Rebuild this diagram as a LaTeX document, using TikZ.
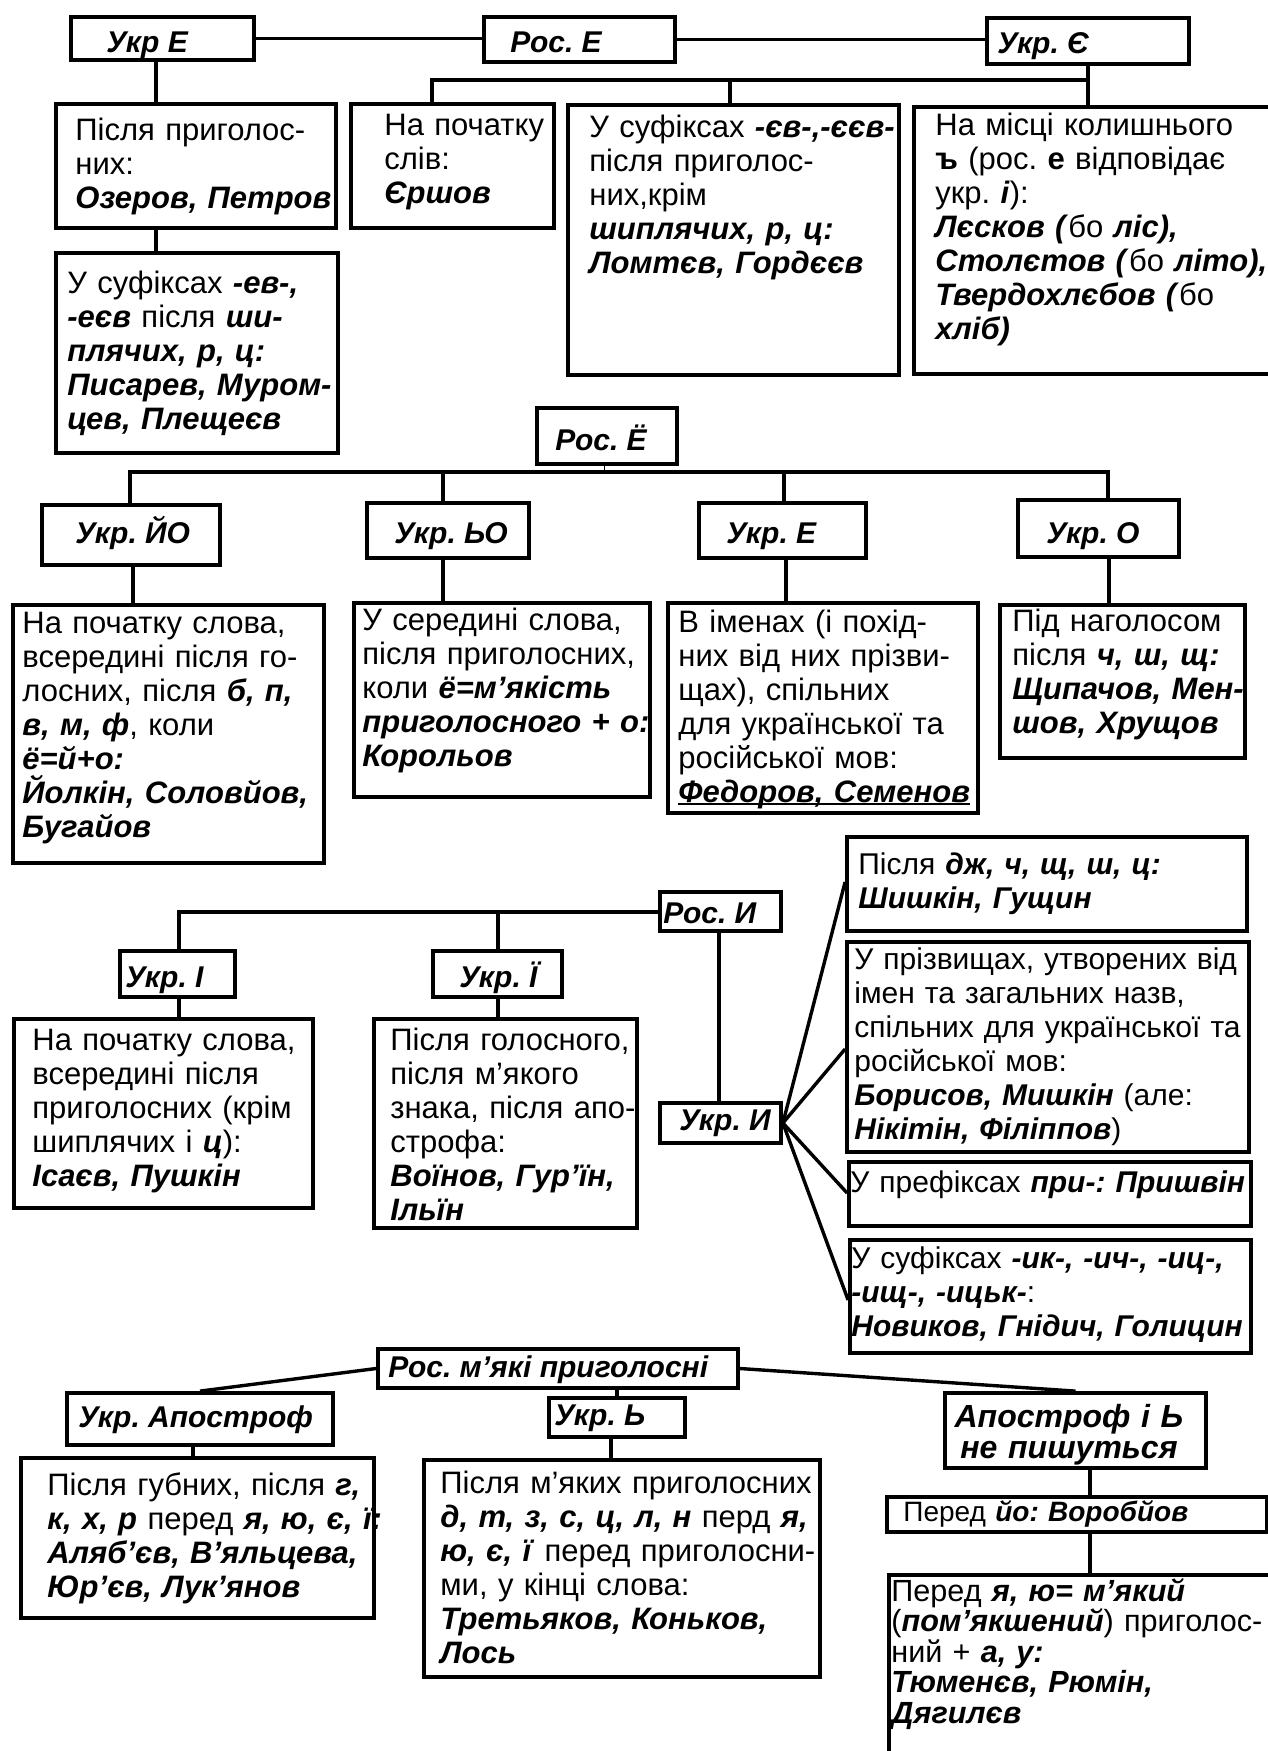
\documentclass[tikz,border=0pt]{standalone}
\usepackage{fontspec}
\setmainfont{Liberation Sans}
\usetikzlibrary{fit}
\frenchspacing
\newcommand\bi[1]{\textbf{\textit{#1}}}
\newsavebox\ulbox
\newcommand\ulthick[1]{\leavevmode\sbox\ulbox{#1}\rlap{\rule[-1.6pt]{\wd\ulbox}{1.1pt}}\usebox\ulbox}
\newcommand\bx[5]{\node[boxs, fit={(#2,#3) (#4,#5)}] (#1) {};}
\begin{document}
\begin{tikzpicture}[x=0.5pt,y=-0.5pt,
  boxs/.style={draw, line width=1.9pt, inner sep=0pt},
  conn/.style={line width=1.7pt, line join=miter},
  thinconn/.style={line width=0.5pt},
  title/.style={anchor=base west, inner sep=0pt, font=\fontsize{15}{18}\selectfont\bfseries\itshape},
  body/.style={anchor=base west, inner sep=0pt, text width=320pt, align=left, font=\fontsize{15.5}{17}\selectfont},
  bodyR/.style={body, font=\fontsize{15}{17}\selectfont}]
\fill[white] (0,0) rectangle (1268,1751);
\useasboundingbox (0,0) rectangle (1268,1751);
% ---------- boxes ----------
\bx{ukrE}{71}{17}{254}{60}
\bx{rosE}{484}{17}{675}{62}
\bx{ukrYe}{987}{18}{1189}{64}
\bx{a1}{56}{104}{336}{228}
\bx{a2}{56}{253}{338}{453}
\bx{b1}{351}{104}{554}{228}
\bx{c1}{568}{105}{899}{375}
\bx{d1}{914}{107}{1290}{374}
\bx{rosYo}{537}{408}{677}{464}
\bx{ukrJo}{42}{505}{220}{565}
\bx{ukrSo}{367}{503}{529}{558}
\bx{ukrE2}{699}{503}{866}{558}
\bx{ukrO}{1018}{500}{1179}{557}
\bx{jo}{13}{605}{324}{863}
\bx{so}{354}{603}{650}{797}
\bx{e2}{668}{603}{978}{813}
\bx{ob}{1000}{605}{1245}{758}
\bx{rosI}{660}{892}{781}{931}
\bx{ukrI}{120}{951}{235}{997}
\bx{ukrYi}{433}{951}{562}{997}
\bx{ib}{14}{1019}{313}{1208}
\bx{yib}{374}{1019}{637}{1228}
\bx{ukrIy}{660}{1103}{781}{1143}
\bx{r1}{847}{837}{1247}{931}
\bx{r2}{847}{942}{1249}{1152}
\bx{r3}{849}{1162}{1251}{1226}
\bx{r4}{850}{1240}{1251}{1353}
\bx{rosM}{378}{1349}{738}{1388}
\bx{ukrAp}{67}{1393}{333}{1445}
\bx{ukrSoft}{549}{1398}{685}{1437}
\bx{apN}{945}{1393}{1206}{1468}
\bx{apb}{21}{1458}{374}{1618}
\bx{softb}{424}{1460}{820}{1677}
\bx{perYo}{887}{1497}{1267}{1532}
\bx{last}{889}{1575}{1290}{1780}
% ---------- titles ----------
\node[title] (tUkrE) at (106,52) {Укр E};
\node[title] (tRosE) at (510,52) {Рос. Е};
\node[title] (tUkrYe) at (997,53) {Укр. Є};
\node[title] (tRosYo) at (555,450) {Рос. Ё};
\node[title] (tUkrJo) at (75,543) {Укр. ЙО};
\node[title] (tUkrSo) at (394,543) {Укр. ЬО};
\node[title] (tUkrE2) at (726,543) {Укр. Е};
\node[title] (tUkrO) at (1046,543) {Укр. О};
\node[title] (tRosI) at (663,923) {Рос. И};
\node[title] (tUkrI) at (125,987) {Укр. І};
\node[title] (tUkrYi) at (459,987) {Укр. Ї};
\node[title] (tUkrIy) at (679,1130) {Укр. И};
\node[title] (tRosM) at (388,1377) {Рос. м’які приголосні};
\node[title] (tUkrAp) at (78,1427) {Укр. Апостроф};
\node[title] (tUkrSoft) at (554,1425) {Укр. Ь};
\node[title, anchor=base, text width=130pt, align=center, font=\fontsize{16}{15.5}\selectfont\bfseries\itshape] (tApN) at (1069,1427) {Апостроф і Ь\\не пишуться};
% ---------- body texts ----------
\node[body] (ta1) at (75,140) {Після приголос-\\них:\\\bi{Озеров, Петров}};
\node[body] (ta2) at (67,293) {У суфіксах \bi{-ев-,}\\\bi{-еєв} після \bi{ши-}\\\bi{плячих, р, ц:}\\\bi{Писарев, Муром-}\\\bi{цев, Плещеєв}};
\node[body] (tb1) at (384,135) {На початку\\слів:\\\bi{Єршов}};
\node[body] (tc1) at (589,137) {У суфіксах \bi{-єв-,-єєв-}\\після приголос-\\них,крім\\\bi{шиплячих, р, ц:}\\\bi{Ломтєв, Гордєєв}};
\node[body] (td1) at (935,135) {На місці колишнього\\\textbf{ъ} (рос. \textbf{е} відповідає\\укр. \bi{і}):\\\bi{Лєсков (}бо \bi{ліс),}\\\bi{Столєтов (}бо \bi{літо),}\\\bi{Твердохлєбов (}бо\\\bi{хліб)}};
\node[body] (tjo) at (22,633) {На початку слова,\\всередині після го-\\лосних, після \bi{б, п,}\\\bi{в, м, ф}, коли\\\bi{ё=й+о:}\\\bi{Йолкін, Соловйов,}\\\bi{Бугайов}};
\node[body] (tso) at (362,630) {У середині слова,\\після приголосних,\\коли \bi{ё=м’якість}\\\bi{приголосного + о:}\\\bi{Корольов}};
\node[body] (te2) at (678,632) {В іменах (і похід-\\них від них прізви-\\щах), спільних\\для української та\\російської мов:\\\ulthick{\bi{Федоров, Семенов}}};
\node[body] (tob) at (1012,631) {Під наголосом\\після \bi{ч, ш, щ:}\\\bi{Щипачов, Мен-}\\\bi{шов, Хрущов}};
\node[body] (tib) at (32,1050) {На початку слова,\\всередині після\\приголосних (крім\\шиплячих і \bi{ц}):\\\bi{Ісаєв, Пушкін}};
\node[body] (tyib) at (390,1050) {Після голосного,\\після м’якого\\знака, після апо-\\строфа:\\\bi{Воїнов, Гур’їн,}\\\bi{Ільїн}};
\node[bodyR] (tr1) at (858,874) {Після \bi{дж, ч, щ, ш, ц:}\\\bi{Шишкін, Гущин}};
\node[bodyR] (tr2) at (854,969) {У прізвищах, утворених від\\імен та загальних назв,\\спільних для української та\\російської мов:\\\bi{Борисов, Мишкін} (але:\\\bi{Нікітін, Філіппов})};
\node[bodyR] (tr3) at (850,1192) {У префіксах \bi{при-: Пришвін}};
\node[bodyR] (tr4) at (851,1268) {У суфіксах \bi{-ик-, -ич-, -иц-,}\\\bi{-ищ-, -ицьк-}:\\\bi{Новиков, Гнідич, Голицин}};
\node[body] (tapb) at (47,1495) {Після губних, після \bi{г,}\\\bi{к, х, р} перед \bi{я, ю, є, ї:}\\\bi{Аляб’єв, В’яльцева,}\\\bi{Юр’єв, Лук’янов}};
\node[body] (tsoftb) at (440,1493) {Після м’яких приголосних\\\bi{д, т, з, с, ц, л, н} перд \bi{я,}\\\bi{ю, є, ї} перед приголосни-\\ми, у кінці слова:\\\bi{Третьяков, Коньков,}\\\bi{Лось}};
\node[body, font=\fontsize{14}{17}\selectfont] (tperYo) at (903,1521) {Перед \bi{йо: Воробйов}};
\node[body, font=\fontsize{15.3}{15.3}\selectfont] (tlast) at (891,1601) {Перед \bi{я, ю= м’який}\\(\bi{пом’якшений}) приголос-\\ний + \bi{а, у:}\\\bi{Тюменєв, Рюмін,}\\\bi{Дягилєв}};
% ---------- connectors ----------
\draw[conn] (ukrE.east) -- (ukrE.east -| rosE.west);
\draw[conn] (rosE.east) -- (rosE.east -| ukrYe.west);
\coordinate (v1) at (156,0);
\draw[conn] (ukrE.south -| v1) -- (a1.north -| v1);
\draw[conn] (a1.south -| v1) -- (a2.north -| v1);
\coordinate (busL) at (432,80);
\coordinate (busM) at (730,80);
\coordinate (busR) at (1088,80);
\draw[conn] (ukrYe.south -| busR) -- (d1.north -| busR);
\draw[conn] (busR) -- (busL) -- (b1.north -| busL);
\draw[conn] (busM) -- (c1.north -| busM);
% Ё
\coordinate (yoL) at (130,472);
\coordinate (yo2) at (443,472);
\coordinate (yo3) at (784,472);
\coordinate (yoR) at (1108,472);
\coordinate (yoT) at (604,472);
\draw[thinconn] (rosYo.south -| yoT) -- (yoT);
\draw[conn] (yoL |- ukrJo.north) -- (yoL) -- (yoR) -- (yoR |- ukrO.north);
\draw[conn] (yo2) -- (yo2 |- ukrSo.north);
\draw[conn] (yo3) -- (yo3 |- ukrE2.north);
\coordinate (dJo) at (133,0);
\coordinate (dSo) at (443,0);
\coordinate (dE2) at (786,0);
\coordinate (dO) at (1109,0);
\draw[conn] (ukrJo.south -| dJo) -- (jo.north -| dJo);
\draw[conn] (ukrSo.south -| dSo) -- (so.north -| dSo);
\draw[conn] (ukrE2.south -| dE2) -- (e2.north -| dE2);
\draw[conn] (ukrO.south -| dO) -- (ob.north -| dO);
% И
\coordinate (iL) at (179,912);
\coordinate (iM) at (498,912);
\draw[conn] (iL |- ukrI.north) -- (iL) -- (iL -| rosI.west);
\draw[conn] (iM) -- (iM |- ukrYi.north);
\draw[conn] (ukrI.south -| iL) -- (ib.north -| iL);
\draw[conn] (ukrYi.south -| iM) -- (yib.north -| iM);
\coordinate (iv) at (719,0);
\draw[conn] (rosI.south -| iv) -- (ukrIy.north -| iv);
\coordinate (f1) at (0,882);
\coordinate (f2) at (0,1049);
\coordinate (f3) at (0,1193);
\coordinate (f4) at (0,1300);
\draw[conn] (ukrIy.east) -- (r1.west |- f1);
\draw[conn] (ukrIy.east) -- (r2.west |- f2);
\draw[conn] (ukrIy.east) -- (r3.west |- f3);
\draw[conn] (ukrIy.east) -- (r4.west |- f4);
% м'які
\draw[conn] (rosM.west) -- (ukrAp.north);
\draw[conn] (rosM.east) -- (apN.north);
\draw[conn] (rosM.south -| ukrSoft.north) -- (ukrSoft.north);
\coordinate (apx) at (193,0);
\draw[conn] (ukrAp.south -| apx) -- (apb.north -| apx);
\coordinate (sfx) at (611,0);
\draw[conn] (ukrSoft.south -| sfx) -- (softb.north -| sfx);
\coordinate (nx) at (1090,0);
\draw[conn] (apN.south -| nx) -- (perYo.north -| nx);
\draw[conn] (perYo.south -| nx) -- (last.north -| nx);
\end{tikzpicture}
\end{document}
